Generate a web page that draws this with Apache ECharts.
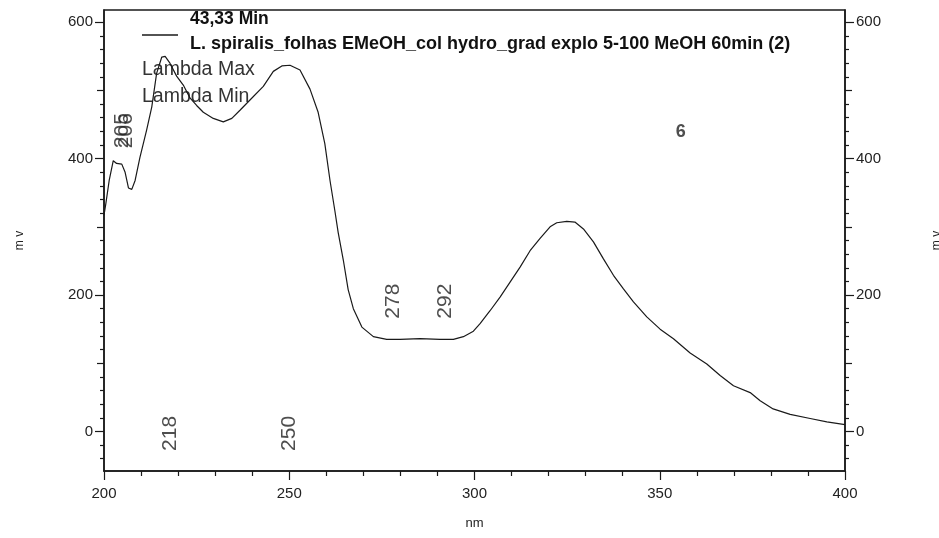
<!DOCTYPE html>
<html>
<head>
<meta charset="utf-8">
<script src="https://cdn.jsdelivr.net/npm/echarts@6/dist/echarts.min.js"></script>
<style>
  html, body { margin: 0; padding: 0; background: #fff; }
  #chart { width: 939px; height: 538px; }
</style>
</head>
<body>
<div id="chart"></div>
<script>
// spectrum (nm, mV)
const wavelengths = [
  200, 200.5, 201.4, 202.5, 203.4, 204.8, 205.7, 206.6, 207.5, 208.4,
  209.7, 211.5, 212.9, 214.2, 215.6, 216.5, 217.8, 219.6, 221.4, 223.2,
  225.0, 226.8, 229.5, 232.2, 234.5, 236.7, 239.4, 243.0, 245.7, 248.0,
  250.2, 252.9, 255.6, 257.8, 259.6, 261.0, 262.3, 263.2, 264.6, 265.9,
  267.3, 269.6, 272.7, 276.3, 279.9, 285.3, 290.7, 294.3, 297.0, 299.7,
  301.5, 304.2, 306.9, 309.6, 312.3, 315.0, 317.7, 320.4, 322.2, 324.9,
  327.1, 329.4, 332.1, 334.8, 337.5, 340.2, 342.9, 346.5, 350.1, 353.7,
  358.2, 362.7, 366.3, 369.9, 374.4, 377.1, 380.6, 385.2, 390.6, 395.1,
  400
];
const signal = [
  317, 334, 368, 397, 393, 392, 380, 357, 355, 368,
  402, 442, 476, 525, 549, 550, 540, 521, 508, 489,
  478, 468, 459, 454, 459, 471, 486, 506, 528, 536,
  537, 530, 502, 468, 422, 368, 324, 292, 251, 208,
  180, 153, 139, 135, 135, 136, 135, 135, 139, 147,
  158, 177, 197, 219, 241, 265, 283, 300, 306, 308,
  307, 297, 278, 253, 229, 209, 190, 168, 150, 136,
  115, 99, 82, 67, 57, 45, 33, 25, 19, 14,
  10
];

// lambda max / min annotations
const lambdaText = ["205", "206", "218", "250", "278", "292"];
const lambdaX = [205, 206, 218, 250, 278, 292];
const lambdaY = [444, 444, 0, 0, 194, 194];
const peakText = ["6"];
const peakX = [355.7];
const peakY = [439];

// axes
const xMin = 200, xMax = 400;
const yMin = -58, yMax = 618;
const yMajor = [0, 200, 400, 600];
const yMid = [100, 300, 500];
const yMinor = [-40, -20, 20, 40, 60, 80, 120, 140, 160, 180, 220, 240, 260, 280,
  320, 340, 360, 380, 420, 440, 460, 480, 520, 540, 560, 580];

const legendTime = "43,33 Min";
const legendName = "L. spiralis_folhas EMeOH_col hydro_grad explo 5-100 MeOH 60min (2)";

const ink = "#1a1a1a";
const axisLineStyle = { color: ink, width: 1.5 };
const labelFont = { fontFamily: "Liberation Sans, Arial, sans-serif", color: "#222" };

const makeY = (position, ticks, len, main) => ({
  type: "value",
  position: position,
  min: yMin,
  max: yMax,
  splitLine: { show: false },
  axisLine: { show: main, onZero: false, lineStyle: axisLineStyle },
  axisTick: { show: true, customValues: ticks, length: len, lineStyle: { color: ink, width: 1.2 } },
  axisLabel: main
    ? { show: true, customValues: ticks, fontSize: 15, margin: 11, ...labelFont }
    : { show: false },
  name: main ? "m v" : "",
  nameLocation: "middle",
  nameGap: position === "left" ? 78 : 86,
  nameTextStyle: { fontSize: 12, ...labelFont },
});

const chart = echarts.init(document.getElementById("chart"));
chart.setOption({
  animation: false,
  grid: {
    left: 104, right: 94, top: 10, bottom: 67,
    containLabel: false,
    outerBoundsMode: "none",
    show: true, borderColor: ink, borderWidth: 1.5,
  },
  xAxis: {
    type: "value",
    min: xMin,
    max: xMax,
    interval: 50,
    splitLine: { show: false },
    axisLine: { onZero: false, lineStyle: axisLineStyle },
    axisTick: { length: 9, lineStyle: { color: ink, width: 1.2 } },
    minorTick: { show: true, splitNumber: 5, length: 5, lineStyle: { color: ink, width: 1.2 } },
    axisLabel: { fontSize: 15, margin: 15, ...labelFont },
    name: "nm",
    nameLocation: "middle",
    nameGap: 46,
    nameTextStyle: { fontSize: 13, ...labelFont },
  },
  yAxis: [
    makeY("left", yMajor, 9, true),
    makeY("left", yMid, 7, false),
    makeY("left", yMinor, 4, false),
    makeY("right", yMajor, 9, true),
    makeY("right", yMid, 7, false),
    makeY("right", yMinor, 4, false),
  ],
  series: [
    {
      type: "line",
      data: wavelengths.map((w, i) => [w, signal[i]]),
      showSymbol: false,
      smooth: false,
      lineStyle: { color: ink, width: 1.2 },
      z: 3,
    },
    {
      type: "scatter",
      data: lambdaX.map((w, i) => [w, lambdaY[i], lambdaText[i]]),
      symbolSize: 1,
      itemStyle: { color: "transparent" },
      label: {
        show: true,
        position: "inside",
        rotate: 90,
        offset: [-2, 0],
        formatter: (p) => p.value[2],
        fontSize: 21,
        ...labelFont,
      },
    },
    {
      type: "scatter",
      data: peakX.map((w, i) => [w, peakY[i], peakText[i]]),
      symbolSize: 1,
      itemStyle: { color: "transparent" },
      label: {
        show: true,
        position: "inside",
        formatter: (p) => p.value[2],
        fontSize: 18,
        fontWeight: "bold",
        ...labelFont,
      },
    },
  ],
  graphic: [
    { type: "line", shape: { x1: 142, y1: 35, x2: 178, y2: 35 }, style: { stroke: ink, lineWidth: 1.5 } },
    { type: "text", left: 190, top: 10, style: { text: legendTime, font: "bold 17.5px Liberation Sans, Arial", fill: "#111" } },
    { type: "text", left: 190, top: 35, style: { text: legendName, font: "bold 18px Liberation Sans, Arial", fill: "#111" } },
    { type: "text", left: 142, top: 60, style: { text: "Lambda Max", font: "19.5px Liberation Sans, Arial", fill: "#333" } },
    { type: "text", left: 142, top: 87, style: { text: "Lambda Min", font: "19.5px Liberation Sans, Arial", fill: "#333" } },
  ],
});
</script>
</body>
</html>
